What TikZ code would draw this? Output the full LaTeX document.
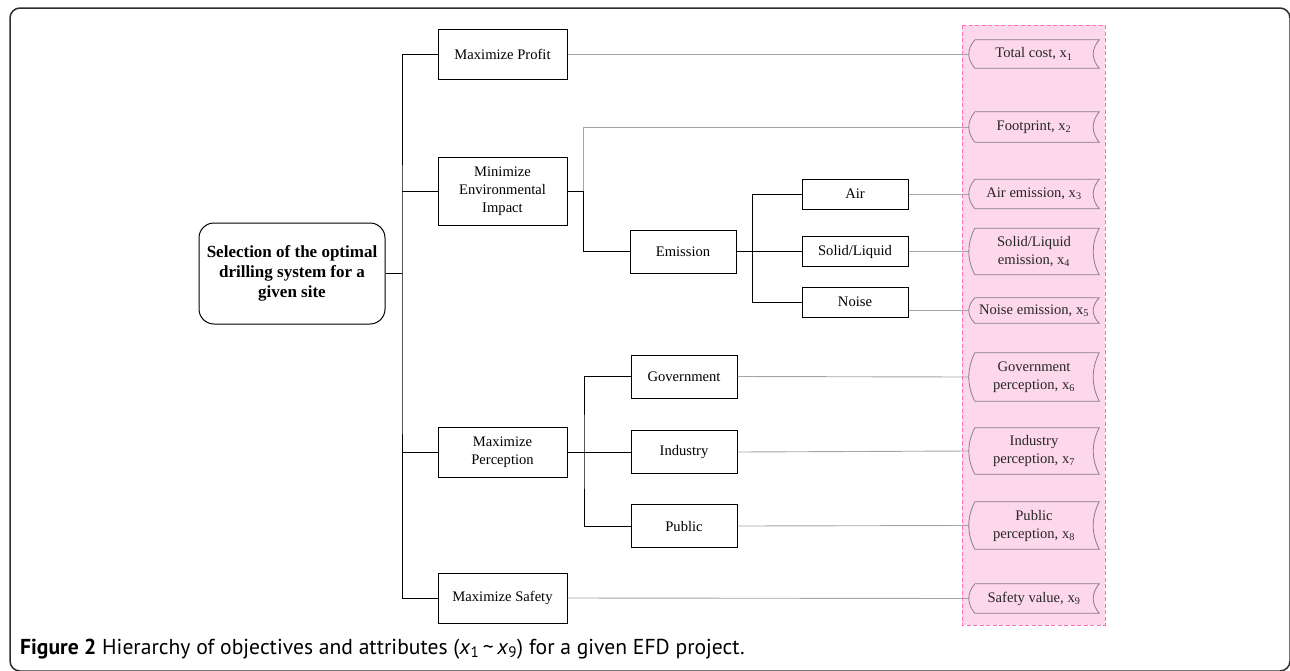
\documentclass[tikz,border=0pt]{standalone}
\usepackage{fontspec}
\setmainfont{Liberation Serif}
\newfontfamily\capfont{PT Sans}
\usetikzlibrary{calc}

\definecolor{attrpink}{RGB}{253,215,234}
\definecolor{dashpink}{RGB}{255,110,185}
\definecolor{linkgray}{RGB}{165,165,165}
\definecolor{attrline}{RGB}{140,125,135}
\definecolor{framegray}{RGB}{45,45,45}

\tikzset{
  objbox/.style={draw=black, line width=1pt, fill=white, inner sep=0pt, align=center,
    font=\fontsize{14.6}{18}\selectfont},
  lvlbox/.style={objbox, minimum width=129pt},
  subbox/.style={objbox, minimum width=106pt},
  rootbox/.style={draw=black, line width=1pt, rounded corners=15pt, fill=white,
    minimum width=186pt, minimum height=101pt, inner sep=0pt, align=center,
    font=\fontsize{17}{20}\selectfont\bfseries},
  attr/.style={minimum width=130pt, inner sep=0pt, align=center, text=black!85,
    font=\fontsize{14.6}{18}\selectfont},
  tree/.style={line width=1pt, black},
  link/.style={line width=0.9pt, linkgray},
  attrframe/.style={draw=attrline, line width=0.8pt},
}

\begin{document}
\begin{tikzpicture}[x=1pt, y=-1pt]
\useasboundingbox (0,0) rectangle (1290,670);

% outer frame
\draw[framegray, line width=1.5pt, rounded corners=10pt] (10,8) rectangle (1290,671);

% attribute column background
\fill[attrpink] (962,25) rectangle (1105,625);
\draw[dashpink, line width=0.9pt, dash pattern=on 4pt off 2.5pt] (962,25) rectangle (1105,625);

% goal
\node[rootbox] (root) at (292,273.5) {Selection of the optimal\\drilling system for a\\given site};

% objectives
\node[lvlbox, minimum height=50pt] (profit) at (502.5,54) {Maximize Profit};
\node[lvlbox, minimum height=68pt] (env) at (502.5,191) {Minimize\\Environmental\\Impact};
\node[lvlbox, minimum height=50pt] (perc) at (502.5,452) {Maximize\\Perception};
\node[lvlbox, minimum height=50pt] (safety) at (502.5,598) {Maximize Safety};

% sub-objectives
\node[subbox, minimum height=43pt] (emis) at (683,251.5) {Emission};
\node[subbox, minimum height=30pt] (air) at (855,194) {Air};
\node[subbox, minimum height=30pt] (solid) at (855,251.5) {Solid/Liquid};
\node[subbox, minimum height=30pt] (noise) at (855,302) {Noise};
\node[subbox, minimum height=43pt] (gov) at (684,376.5) {Government};
\node[subbox, minimum height=43pt] (ind) at (684,452) {Industry};
\node[subbox, minimum height=43pt] (pub) at (684,526) {Public};

% attributes
\node[attr, minimum height=28pt] (x1) at (1034,54) {Total cost, x\textsubscript{1}};
\node[attr, minimum height=30pt] (x2) at (1034,127) {Footprint, x\textsubscript{2}};
\node[attr, minimum height=29pt] (x3) at (1034,194) {Air emission, x\textsubscript{3}};
\node[attr, minimum height=46pt] (x4) at (1034,251.5) {Solid/Liquid\\emission, x\textsubscript{4}};
\node[attr, minimum height=25pt] (x5) at (1034,310.5) {Noise emission, x\textsubscript{5}};
\node[attr, minimum height=48pt] (x6) at (1034,377) {Government\\perception, x\textsubscript{6}};
\node[attr, minimum height=46pt] (x7) at (1034,451) {Industry\\perception, x\textsubscript{7}};
\node[attr, minimum height=47pt] (x8) at (1034,525.5) {Public\\perception, x\textsubscript{8}};
\node[attr, minimum height=29pt] (x9) at (1034,598.5) {Safety value, x\textsubscript{9}};

% junction points of the tree
\coordinate (trunk) at (402,273.5);
\coordinate (envj) at (583.5,191);
\coordinate (emj) at (752,251.5);
\coordinate (pj) at (584,452);

% hierarchy connectors
\draw[tree] (root.east) -- (trunk);
\draw[tree] (profit.west) -| (trunk) |- (safety.west);
\draw[tree] (env.west) -- (env.west -| trunk);
\draw[tree] (perc.west) -- (perc.west -| trunk);
\draw[tree] (env.east) -- (envj) |- (emis.west);
\draw[tree] (emis.east) -- (solid.west);
\draw[tree] (air.west) -| (emj) |- (noise.west);
\draw[tree] (perc.east) -- (ind.west);
\draw[tree] (gov.west) -| (pj) |- (pub.west);

% links to attributes
\draw[link] (profit.east) -- (x1.west);
\draw[link] (envj) |- (x2.west);
\draw[link] (air.east) -- (x3.west);
\draw[link] (solid.east) -- (x4.west);
\draw[link] (noise.east |- x5.west) -- (x5.west);
\draw[link] (gov.east) -- (x6.west);
\draw[link] (ind.east) -- (x7.west);
\draw[link] (pub.east) -- (x8.west);
\draw[link] (safety.east) -- (x9.west);

% attribute outlines (stored-data style)
\foreach \a in {x1,x2,x3,x4,x5,x6,x7,x8,x9}{
  \draw[attrframe]
    ([xshift=6pt]\a.north west) -- (\a.north east)
    .. controls ($(\a.north east)!0.33!(\a.south east)+(-8pt,0)$)
           and ($(\a.north east)!0.67!(\a.south east)+(-8pt,0)$) .. (\a.south east)
    -- ([xshift=6pt]\a.south west)
    .. controls ($(\a.south west)!0.33!(\a.north west)+(-2pt,0)$)
           and ($(\a.south west)!0.67!(\a.north west)+(-2pt,0)$) .. ([xshift=6pt]\a.north west);
}

% caption
\node[anchor=base west, inner sep=0pt, font=\capfont\fontsize{21.6}{24}\selectfont] (cap) at (20,654)
  {\textbf{Figure 2} Hierarchy of objectives and attributes (\textit{x}\textsubscript{1}\,\textasciitilde\,\textit{x}\textsubscript{9}) for a given EFD project.};
\end{tikzpicture}
\end{document}
